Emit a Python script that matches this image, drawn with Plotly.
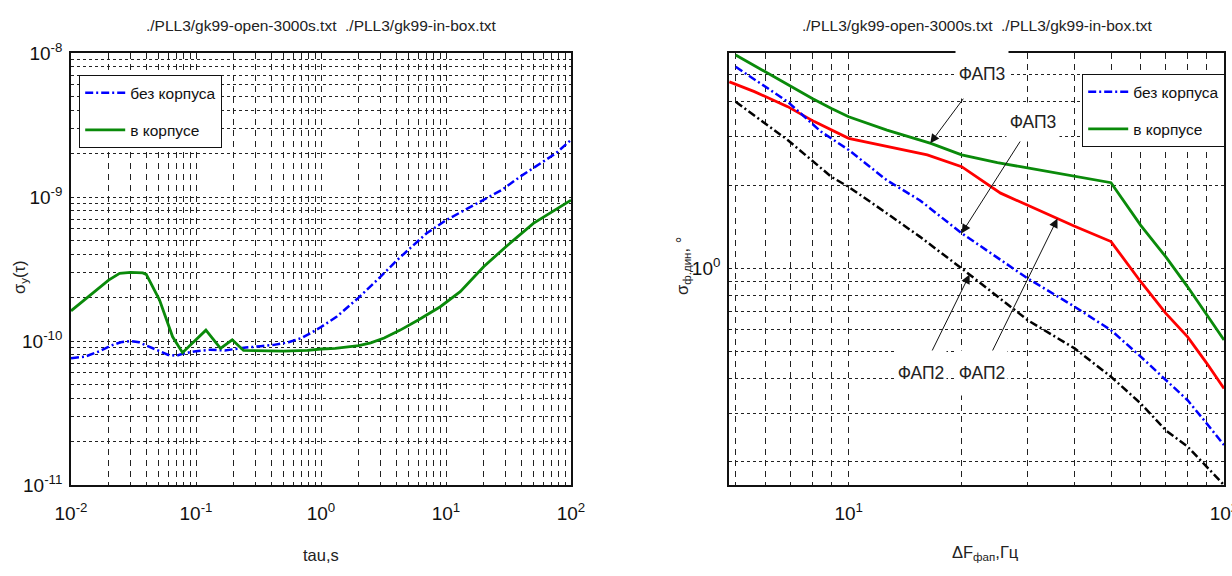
import math
import plotly.graph_objects as go

W, H = 1232, 576
FONT = "'Liberation Sans Narrow', 'Arial Narrow', 'Liberation Sans', Arial, sans-serif"

# ---------------- left panel: Allan deviation vs averaging time ----------------
tau_open = [0.01, 0.013, 0.017, 0.021, 0.025, 0.03, 0.035, 0.04, 0.05, 0.06, 0.07,
            0.08, 0.1, 0.13, 0.17, 0.2, 0.25, 0.33, 0.42, 0.55, 0.7, 0.85, 1.0,
            1.34, 2.0, 3.0, 4.0, 5.15, 7.0, 10.0, 14.0, 20.0, 28.0, 39.0, 55.0,
            75.0, 100.0]
adev_open = [7.6e-11, 7.8e-11, 8.5e-11, 9.3e-11, 9.8e-11, 1.0e-10, 9.8e-11, 9.3e-11,
             8.5e-11, 8.0e-11, 7.9e-11, 8.2e-11, 8.5e-11, 8.7e-11, 8.6e-11, 8.8e-11,
             9.0e-11, 9.2e-11, 9.4e-11, 9.8e-11, 1.05e-10, 1.15e-10, 1.25e-10,
             1.48e-10, 2.0e-10, 2.8e-10, 3.6e-10, 4.4e-10, 5.6e-10, 6.9e-10, 8.1e-10,
             9.6e-10, 1.12e-9, 1.38e-9, 1.68e-9, 2.0e-9, 2.49e-9]

tau_box = [0.01, 0.0125, 0.016, 0.02, 0.0245, 0.03, 0.0375, 0.04, 0.051, 0.065, 0.078,
           0.12, 0.157, 0.195, 0.24, 0.35, 0.5, 0.78, 1.0, 1.3, 1.6, 2.0, 2.5, 3.2,
           4.3, 6.0, 9.0, 13.0, 20.0, 30.0, 50.0, 70.0, 100.0]
adev_box = [1.62e-10, 1.9e-10, 2.26e-10, 2.65e-10, 2.95e-10, 3.0e-10, 2.97e-10, 2.9e-10,
            1.93e-10, 1.07e-10, 8.3e-11, 1.19e-10, 8.9e-11, 1.02e-10, 8.6e-11, 8.5e-11,
            8.5e-11, 8.6e-11, 8.8e-11, 8.9e-11, 9.1e-11, 9.3e-11, 9.7e-11, 1.05e-10,
            1.19e-10, 1.4e-10, 1.73e-10, 2.2e-10, 3.28e-10, 4.5e-10, 6.56e-10, 7.9e-10,
            9.5e-10]

left_x_decades = [-2, -1, 0, 1, 2]
left_x_labels = ["10<sup>-2</sup>", "10<sup>-1</sup>", "10<sup>0</sup>",
                 "10<sup>1</sup>", "10<sup>2</sup>"]
left_y_decades = [-11, -10, -9, -8]
left_y_labels = ["10<sup>-11</sup>", "10<sup>-10</sup>", "10<sup>-9</sup>", "10<sup>-8</sup>"]

# ---------------- right panel: dynamic phase error vs loop bandwidth ----------------
f_pll3_open = [5, 6.88, 8.44, 10, 12.65, 15.5, 20, 25.4, 30, 40, 50, 60, 70, 80, 90, 100]
err_pll3_open = [5.35, 4.0, 3.12, 2.68, 2.08, 1.76, 1.34, 1.07, 0.92, 0.727, 0.598,
                 0.48, 0.395, 0.334, 0.275, 0.230]

f_pll3_box = [5, 6, 7, 8, 9, 10, 12.65, 16.56, 20, 24.9, 28.7, 40.4, 50, 60, 70, 80, 90, 100]
err_pll3_box = [5.90, 5.13, 4.53, 4.11, 3.78, 3.53, 3.16, 2.83, 2.57, 2.41, 2.33, 2.14,
                2.04, 1.43, 1.10, 0.858, 0.678, 0.551]

f_pll2_box = [4.81, 5.61, 6.88, 8.1, 10, 12.65, 16.2, 20, 25.4, 30, 40, 50, 60, 70, 80, 90, 100]
err_pll2_box = [4.72, 4.35, 3.84, 3.39, 2.95, 2.75, 2.57, 2.33, 1.87, 1.69, 1.42, 1.25,
                0.895, 0.688, 0.566, 0.454, 0.368]

f_pll2_open = [5, 6.88, 9, 10, 12.65, 15.5, 20, 25, 30, 40, 50, 60, 70, 80, 90, 100]
err_pll2_open = [4.0, 2.91, 2.14, 1.97, 1.58, 1.30, 1.0, 0.79, 0.65, 0.514, 0.406,
                 0.325, 0.26, 0.227, 0.192, 0.165]

right_x_decades = [1, 2]
right_x_labels = ["10<sup>1</sup>", "10<sup>2</sup>"]
right_y_decades = [0]
right_y_labels = ["10<sup>0</sup>"]

right_x_lim = [4.8, 100.0]
right_y_lim = [0.165, 6.0]

TITLE = "./PLL3/gk99-open-3000s.txt \u00a0./PLL3/gk99-in-box.txt"
LEGEND_NAMES = ["без корпуса", "в корпусе"]


def log_ticks(lo, hi, decades, labels):
    """All 1..9 x 10^n positions inside [lo, hi]; labels only on decades."""
    vals, texts = [], []
    e0 = math.floor(math.log10(lo)) - 1
    e1 = math.ceil(math.log10(hi)) + 1
    for e in range(e0, e1):
        for m in range(1, 10):
            v = m * 10.0 ** e
            if lo * 0.999 <= v <= hi * 1.001:
                vals.append(v)
                texts.append(labels[decades.index(e)] if (m == 1 and e in decades) else "")
    return vals, texts


def log_on_curve(xs, ys, x):
    """log10 of a curve's value at x (piecewise linear in log-log)."""
    lx = [math.log10(v) for v in xs]
    ly = [math.log10(v) for v in ys]
    t = math.log10(x)
    for i in range(len(lx) - 1):
        if lx[i] <= t <= lx[i + 1]:
            k = (t - lx[i]) / (lx[i + 1] - lx[i])
            return ly[i] + k * (ly[i + 1] - ly[i])
    return ly[-1]


BLUE, GREEN, RED, BLACK = "#0000ff", "#0a8a0a", "#ff0000", "#000000"
DASHDOT = "8px,3px,2px,3px"

fig = go.Figure()

# left panel curves
fig.add_trace(go.Scatter(x=tau_open, y=adev_open, mode="lines", name=LEGEND_NAMES[0],
                         line=dict(color=BLUE, width=2.5, dash=DASHDOT),
                         xaxis="x", yaxis="y", legend="legend", legendgroup="a"))
fig.add_trace(go.Scatter(x=tau_box, y=adev_box, mode="lines", name=LEGEND_NAMES[1],
                         line=dict(color=GREEN, width=2.8),
                         xaxis="x", yaxis="y", legend="legend", legendgroup="b"))

# right panel curves
fig.add_trace(go.Scatter(x=f_pll2_open, y=err_pll2_open, mode="lines", showlegend=False,
                         line=dict(color=BLACK, width=2.5, dash=DASHDOT),
                         xaxis="x2", yaxis="y2"))
fig.add_trace(go.Scatter(x=f_pll2_box, y=err_pll2_box, mode="lines", showlegend=False,
                         line=dict(color=RED, width=2.8),
                         xaxis="x2", yaxis="y2"))
fig.add_trace(go.Scatter(x=f_pll3_open, y=err_pll3_open, mode="lines", name=LEGEND_NAMES[0],
                         line=dict(color=BLUE, width=2.5, dash=DASHDOT),
                         xaxis="x2", yaxis="y2", legend="legend2", legendgroup="c"))
fig.add_trace(go.Scatter(x=f_pll3_box, y=err_pll3_box, mode="lines", name=LEGEND_NAMES[1],
                         line=dict(color=GREEN, width=2.8),
                         xaxis="x2", yaxis="y2", legend="legend2", legendgroup="d"))

tick_font = dict(family=FONT, size=19, color="#111")
axis_common = dict(type="log", showline=True, linecolor="#111", linewidth=1.6, mirror=True,
                   showgrid=True, gridcolor="#222", gridwidth=1, zeroline=False,
                   ticks="", tickmode="array", tickfont=tick_font, automargin=False,
                   ticklabeloverflow="allow")

lx_vals, lx_text = log_ticks(1e-2, 1e2, left_x_decades, left_x_labels)
ly_vals, ly_text = log_ticks(1e-11, 1e-8, left_y_decades, left_y_labels)
rx_vals, rx_text = log_ticks(right_x_lim[0], right_x_lim[1], right_x_decades, right_x_labels)
ry_vals, ry_text = log_ticks(right_y_lim[0], right_y_lim[1], right_y_decades, right_y_labels)

y_dom = [1 - 485 / H, 1 - 53 / H]
legend_font = dict(family=FONT, size=15.5, color="#111")

fig.update_layout(
    width=W, height=H, margin=dict(l=0, r=0, t=0, b=0),
    paper_bgcolor="white", plot_bgcolor="white",
    font=dict(family=FONT, color="#111"),
    xaxis=dict(axis_common, domain=[71 / W, 571 / W], anchor="y",
               range=[-2, 2], tickvals=lx_vals, ticktext=lx_text,
               griddash="6px,5px", ticklabelstandoff=10),
    yaxis=dict(axis_common, domain=y_dom, anchor="x",
               range=[-11, -8], tickvals=ly_vals, ticktext=ly_text,
               griddash="3px,3px", ticklabelstandoff=3),
    xaxis2=dict(axis_common, domain=[729 / W, 1224 / W], anchor="y2",
                range=[math.log10(right_x_lim[0]), math.log10(right_x_lim[1])],
                tickvals=rx_vals, ticktext=rx_text,
                griddash="6px,5px", ticklabelstandoff=10),
    yaxis2=dict(axis_common, domain=y_dom, anchor="x2",
                range=[math.log10(right_y_lim[0]), math.log10(right_y_lim[1])],
                tickvals=ry_vals, ticktext=ry_text,
                griddash="3px,3px", ticklabelstandoff=3),
    legend=dict(x=79 / W, y=1 - 75 / H, xanchor="left", yanchor="top",
                bgcolor="white", bordercolor="#111", borderwidth=1.2,
                font=legend_font, tracegroupgap=14, itemwidth=40,
                traceorder="grouped"),
    legend2=dict(x=1082 / W, y=1 - 74 / H, xanchor="left", yanchor="top",
                 bgcolor="white", bordercolor="#111", borderwidth=1.2,
                 font=legend_font, tracegroupgap=14, itemwidth=40,
                 traceorder="grouped"),
)

text_font = dict(family=FONT, size=15.5, color="#222")
label_font = dict(family=FONT, size=16.5, color="#222")
annotations = [
    dict(text=TITLE, x=321 / W, y=1 - 25 / H, font=text_font),
    dict(text=TITLE, x=977 / W, y=1 - 25 / H, font=text_font),
    dict(text="tau,s", x=321 / W, y=1 - 555 / H, font=label_font),
    dict(text="ΔF<sub>фап</sub>,Гц", x=985 / W, y=1 - 553 / H, font=label_font),
    dict(text="σ<sub>y</sub>(τ)", x=20 / W, y=1 - 277 / H, font=label_font, textangle=-90),
    dict(text="σ<sub>ф.дин</sub>, °", x=683 / W, y=1 - 266 / H, font=label_font, textangle=-90),
]
for a in annotations:
    a.update(xref="paper", yref="paper", showarrow=False, xanchor="center", yanchor="middle")

# loop-order callouts: (label, curve x, curve y, arrow tip x, label x, label y, box w, box h)
callouts = [
    ("ФАП3", f_pll3_box, err_pll3_box, 16.5, 22.6, 5.03, 50, 46),
    ("ФАП3", f_pll3_open, err_pll3_open, 20.0, 30.9, 3.38, 50, 36),
    ("ФАП2", f_pll2_open, err_pll2_open, 21.0, 15.6, 0.419, 48, 42),
    ("ФАП2", f_pll2_box, err_pll2_box, 36.0, 22.6, 0.419, 48, 42),
]
for label, cx, cy, fx, tx, ty, bw, bh in callouts:
    annotations.append(dict(
        text=label, xref="x2", yref="y2",
        x=math.log10(fx), y=log_on_curve(cx, cy, fx),
        axref="x2", ayref="y2", ax=math.log10(tx), ay=math.log10(ty),
        showarrow=True, arrowhead=2, arrowsize=1.8, arrowwidth=1, arrowcolor="#111",
        standoff=0, bgcolor="white", width=bw, height=bh, valign="middle",
        font=dict(family=FONT, size=17.5, color="#222")))

fig.update_layout(annotations=annotations)
fig.write_html("out.html")
